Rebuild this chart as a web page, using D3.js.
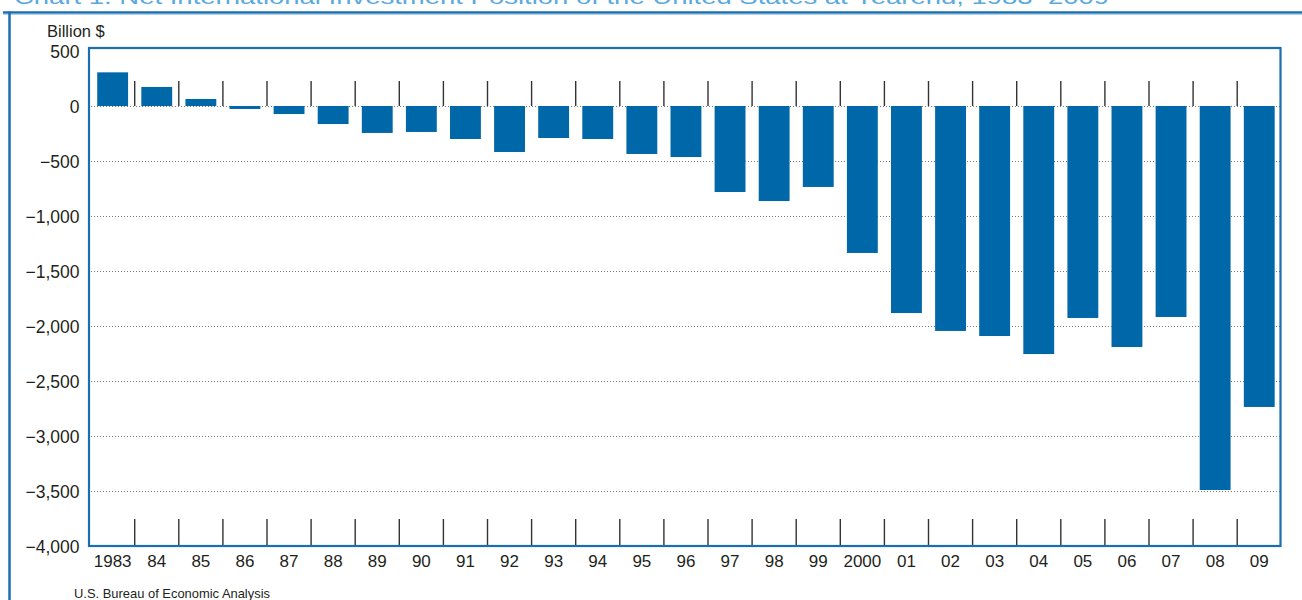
<!DOCTYPE html>
<html>
<head>
<meta charset="utf-8">
<script src="https://cdn.jsdelivr.net/npm/d3@7"></script>
<style>
  html, body { margin: 0; padding: 0; background: #fff; }
  svg { display: block; }
</style>
</head>
<body>
<svg id="chart" width="1302" height="600"></svg>
<script>
const years = ["1983","84","85","86","87","88","89","90","91","92","93","94","95","96","97","98","99","2000","01","02","03","04","05","06","07","08","09"];
const niip = [306, 173, 64, -27, -73, -164, -245, -236, -300, -418, -291, -300, -436, -464, -782, -864, -736, -1336, -1882, -2045, -2091, -2255, -1927, -2191, -1918, -3491, -2736];
const yTicks = [500, 0, -500, -1000, -1500, -2000, -2500, -3000, -3500, -4000];
const gridValues = [0, -500, -1000, -1500, -2000, -2500, -3000, -3500];
const titleText = "Chart 1. Net International Investment Position of the United States at Yearend, 1983–2009";
const unitLabel = "Billion $";
const sourceText = "U.S. Bureau of Economic Analysis";

const blue = "#0067a9";
const frameBlue = "#1b6fae";
const svg = d3.select("#chart");

const x = d3.scaleBand().domain(years).range([90.6, 1281.3]).paddingInner(0.3).paddingOuter(0.15);
const y = d3.scaleLinear().domain([-4000, 500]).range([546, 51]);

const font = "'Liberation Sans', Arial, Helvetica, sans-serif";

// partially visible title (cut off at the top, as in the source image)
svg.append("text")
  .attr("x", 14).attr("y", 4)
  .attr("font-family", font).attr("font-size", 21)
  .attr("fill", "#5aa9df")
  .attr("textLength", 1095).attr("lengthAdjust", "spacingAndGlyphs")
  .text(titleText);

// outer frame
svg.append("line").attr("x1", 3).attr("x2", 1302).attr("y1", 12.5).attr("y2", 12.5)
  .attr("stroke", frameBlue).attr("stroke-width", 2.5);
svg.append("line").attr("x1", 3).attr("x2", 1302).attr("y1", 14.3).attr("y2", 14.3)
  .attr("stroke", "#9cc6e6").attr("stroke-width", 1);
svg.append("line").attr("x1", 9.5).attr("x2", 9.5).attr("y1", 11.5).attr("y2", 600)
  .attr("stroke", frameBlue).attr("stroke-width", 2.5);

// gridlines
svg.append("g").selectAll("line").data(gridValues).join("line")
  .attr("x1", 91).attr("x2", 1280)
  .attr("y1", d => y(d) + 0.5).attr("y2", d => y(d) + 0.5)
  .attr("stroke", "#7a7a7a").attr("stroke-width", 1).attr("stroke-dasharray", "1,2");

// bars
svg.append("g").selectAll("rect").data(years).join("rect")
  .attr("x", d => x(d))
  .attr("width", x.bandwidth())
  .attr("y", (d, i) => y(Math.max(0, niip[i])))
  .attr("height", (d, i) => Math.abs(y(niip[i]) - y(0)))
  .attr("fill", blue);

// separators
const bounds = years.slice(1).map(d => x(d) - x.step() * x.paddingInner() / 2);
const sep = svg.append("g").attr("stroke", "#333").attr("stroke-width", 1.4);
sep.selectAll(".top").data(bounds).join("line").attr("class", "top")
  .attr("x1", d => d).attr("x2", d => d).attr("y1", y(0) - 25).attr("y2", y(0));
sep.selectAll(".bot").data(bounds).join("line").attr("class", "bot")
  .attr("x1", d => d).attr("x2", d => d).attr("y1", y(-4000) - 27).attr("y2", y(-4000));

// plot frame
svg.append("rect").attr("x", 89).attr("y", 48).attr("width", 1191.5).attr("height", 498)
  .attr("fill", "none").attr("stroke", frameBlue).attr("stroke-width", 2.2);

// y axis labels
const yAxis = d3.axisLeft(y).tickValues(yTicks).tickSize(0).tickPadding(0)
  .tickFormat(d => d3.format(",")(d).replace("-", "–"));
const gy = svg.append("g").attr("transform", "translate(79.5,0)").call(yAxis);
gy.select(".domain").remove();
gy.selectAll("text").attr("font-family", font).attr("font-size", 17.5).attr("fill", "#231f20")
  .attr("dy", "0.35em");

// x axis labels
const xAxis = d3.axisBottom(x).tickSize(0).tickPadding(0);
const gx = svg.append("g").attr("transform", "translate(0,555)").call(xAxis);
gx.select(".domain").remove();
gx.selectAll("text").attr("font-family", font).attr("font-size", 17).attr("fill", "#231f20")
  .attr("dy", "0.71em");

// unit label
svg.append("text").attr("x", 47).attr("y", 37)
  .attr("font-family", font).attr("font-size", 16.5).attr("fill", "#231f20")
  .text(unitLabel);

// source
svg.append("text").attr("x", 74).attr("y", 598)
  .attr("font-family", "'Liberation Sans Narrow', " + font).attr("font-size", 13.5).attr("fill", "#231f20")
  .attr("textLength", 196).attr("lengthAdjust", "spacingAndGlyphs")
  .text(sourceText);
</script>
</body>
</html>
